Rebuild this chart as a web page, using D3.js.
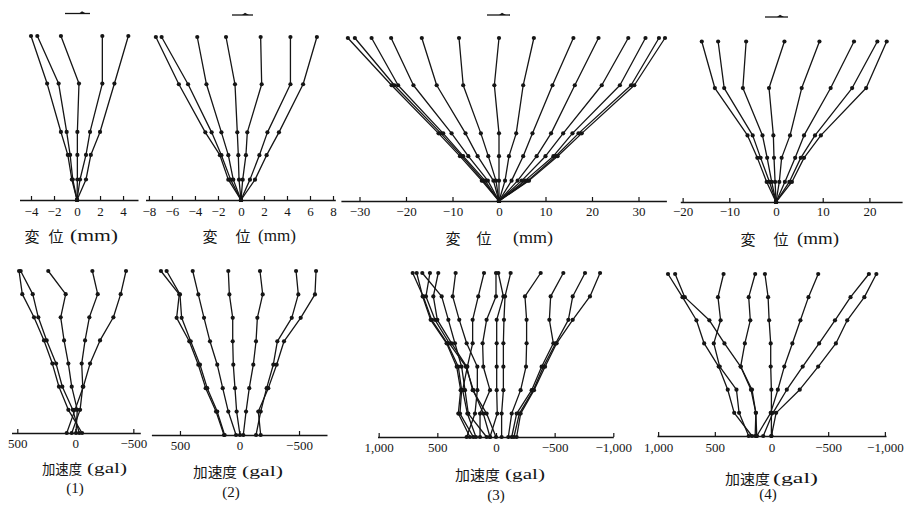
<!DOCTYPE html>
<html><head><meta charset="utf-8">
<script src="https://cdn.jsdelivr.net/npm/d3@7"></script>
<style>body{margin:0;background:#fff}svg{display:block}</style>
</head><body>
<script>
// ---------- DATA ----------
// measurement heights (ground -> top)
const dispLevels = [0, 2.5, 5.5, 8.3, 14.2, 20];
const accLevels = [0, 1, 2, 3, 4, 5, 6, 7];

const ticks1 = [-4, -2, 0, 2, 4];
const ticks2 = [-8, -6, -4, -2, 0, 2, 4, 6, 8];
const ticks3 = [-30, -20, -10, 0, 10, 20, 30];
const ticks4 = [-20, -10, 0, 10, 20];
const ticks5 = [500, 0, -500];
const ticks6 = [500, 0, -500];
const ticks7 = [1000, 500, 0, -500, -1000];
const ticks8 = [1000, 500, 0, -500, -1000];

// displacement (mm), each series ground -> top
const disp1 = [
  [0, -0.45, -0.8, -1.4, -2.6, -4.0],
  [0, -0.37, -0.6, -0.9, -1.6, -3.45],
  [0, 0.03, 0.03, 0.03, 0.17, -1.4],
  [0, 0.26, 0.78, 1.13, 2.2, 2.2],
  [0, 0.78, 1.2, 2.0, 3.25, 4.46]
];
const disp2 = [
  [0, -1.1, -1.83, -3.1, -5.4, -7.4],
  [0, -0.9, -1.7, -2.55, -4.6, -6.9],
  [0, -0.67, -1.1, -1.7, -3.0, -3.8],
  [0, -0.17, -0.23, -0.32, -0.52, -1.3],
  [0, 0.15, 0.43, 0.55, 1.8, 1.71],
  [0, 0.78, 1.6, 2.3, 4.3, 4.3],
  [0, 1.22, 2.23, 3.3, 5.4, 6.6]
];
const disp3 = [
  [0, -3.7, -8.4, -13.0, -23.1, -32.5],
  [0, -3.4, -8.0, -12.5, -22.5, -31.0],
  [0, -3.0, -7.7, -12.0, -21.7, -27.4],
  [0, -2.4, -6.6, -10.2, -18.4, -23.2],
  [0, -1.2, -4.6, -7.2, -13.4, -16.6],
  [0, -0.65, -2.3, -3.9, -7.7, -8.6],
  [0, 0, 0, 0, -1.0, 0],
  [0, 1.3, 2.15, 3.7, 5.2, 7.5],
  [0, 2.7, 5.2, 7.2, 11.5, 16.0],
  [0, 4.0, 8.1, 11.2, 16.3, 21.4],
  [0, 4.9, 10.0, 13.8, 22.1, 27.8],
  [0, 5.6, 11.7, 15.8, 26.0, 31.5],
  [0, 6.2, 12.2, 17.1, 28.4, 34.4],
  [0, 6.45, 12.6, 17.8, 29.1, 35.7]
];
const disp4 = [
  [0, -2.0, -4.0, -6.1, -13.1, -15.9],
  [0, -1.4, -3.3, -5.0, -11.1, -12.4],
  [0, -0.93, -1.9, -2.9, -7.1, -6.4],
  [0, -0.2, -0.43, -0.57, -1.5, 1.8],
  [0, 0.7, 1.2, 3.0, 5.5, 9.3],
  [0, 1.9, 4.1, 6.0, 11.7, 16.7],
  [0, 2.85, 5.3, 8.35, 16.3, 21.7],
  [0, 3.4, 6.0, 9.6, 19.3, 23.7]
];
// acceleration (gal), each series ground -> top
const acc1 = [
  [-58, 60, 141, 198, 270, 356, 457, 485],
  [-34, 22, 112, 166, 247, 319, 367, 471],
  [-6, -17, 31, 60, 97, 126, 83, 233],
  [31, -41, -64, -55, -84, -121, -193, -147],
  [74, 3, -69, -127, -213, -328, -391, -437]
];
const acc2 = [
  [130, 197, 284, 346, 422, 528, 506, 660],
  [125, 187, 271, 332, 410, 486, 500, 612],
  [29, 94, 141, 187, 248, 298, 346, 393],
  [-4, 24, 38, 52, 57, 57, 85, 94],
  [-32, -55, -82, -116, -139, -150, -195, -172],
  [-139, -178, -228, -284, -318, -439, -494, -475],
  [-178, -158, -242, -312, -374, -514, -634, -643]
];
const acc3 = [
  [193, 307, 293, 321, 415, 548, 620, 710],
  [222, 321, 301, 335, 421, 557, 625, 676],
  [80, 236, 264, 293, 350, 406, 463, 628],
  [51, 108, 193, 256, 398, 520, 597, 563],
  [0, 80, 199, 250, 378, 500, 534, 492],
  [250, 179, 159, 159, 250, 313, 369, 344],
  [171, 244, 284, 244, 199, 199, 151, 102],
  [136, 136, 51, 108, 114, 80, 0, 0],
  [51, -11, -6, -6, -6, -6, -63, -20],
  [-48, -48, -63, -63, -63, -68, -77, -125],
  [-105, -134, -210, -256, -261, -261, -247, -381],
  [-134, -176, -304, -389, -489, -455, -466, -574],
  [-153, -199, -318, -404, -509, -617, -654, -759],
  [-176, -210, -324, -418, -517, -654, -801, -887]
];
const acc4 = [
  [172, 329, 386, 466, 594, 662, 785, 913],
  [144, 138, 181, 272, 415, 548, 765, 850],
  [201, 286, 309, 457, 509, 449, 472, 423],
  [130, 138, 172, 272, 235, 187, 201, 144],
  [1, 1, 1, 7, 7, 21, 30, 58],
  [130, 7, -56, -113, -184, -255, -326, -412],
  [73, -13, -135, -275, -420, -560, -697, -859],
  [1, -41, -249, -412, -568, -668, -819, -925]
];

const dispTitle = ["変", "位", "(mm)"];
const accTitle = ["加速度", "(gal)"];
const captions = ["(1)", "(2)", "(3)", "(4)"];

// ---------- LAYOUT ----------
const fmtD = d3.format("d");
const fmtC = d3.format(",");
const panels = [
  {data: disp1, levels: dispLevels, ticks: ticks1, fmt: fmtD, domain: [-5, 5.3], range: [19.5, 138], yTop: 36, yBot: 200, pad: 6.5},
  {data: disp2, levels: dispLevels, ticks: ticks2, fmt: fmtD, domain: [-8.3, 8.2], range: [145.5, 335.3], yTop: 37, yBot: 200, pad: 6.5},
  {data: disp3, levels: dispLevels, ticks: ticks3, fmt: fmtD, domain: [-34, 36], range: [340.9, 666.4], yTop: 38, yBot: 201, pad: 5.5},
  {data: disp4, levels: dispLevels, ticks: ticks4, fmt: fmtD, domain: [-20.5, 27], range: [680.3, 902.1], yTop: 41.5, yBot: 202, pad: 5},
  {data: acc1, levels: accLevels, ticks: ticks5, fmt: fmtC, domain: [550, -560], range: [11.5, 140.3], yTop: 271, yBot: 433, pad: 5.5},
  {data: acc2, levels: accLevels, ticks: ticks6, fmt: fmtC, domain: [740, -735], range: [151.4, 327], yTop: 271, yBot: 435, pad: 5.5},
  {data: acc3, levels: accLevels, ticks: ticks7, fmt: fmtC, domain: [1010, -1000], range: [377.5, 613.3], yTop: 273, yBot: 437, pad: 5.5},
  {data: acc4, levels: accLevels, ticks: ticks8, fmt: fmtC, domain: [1010, -1010], range: [657, 886], yTop: 274, yBot: 436, pad: 6.5}
];

const svg = d3.select("body").append("svg").attr("width", 904).attr("height", 510);
const INK = "#151515";

panels.forEach(p => {
  const x = d3.scaleLinear().domain(p.domain).range(p.range);
  const y = d3.scaleLinear().domain(d3.extent(p.levels)).range([p.yBot, p.yTop]);
  const g = svg.append("g");
  const ax = g.append("g").attr("transform", `translate(0,${p.yBot})`)
    .call(d3.axisBottom(x).tickValues(p.ticks).tickSizeInner(-4).tickSizeOuter(0).tickPadding(p.pad).tickFormat(p.fmt));
  ax.attr("font-family", "'Liberation Serif', serif").attr("font-size", 13);
  ax.select(".domain").attr("stroke", INK).attr("stroke-width", 1.4);
  ax.selectAll(".tick line").attr("stroke", INK).attr("stroke-width", 1.2);
  ax.selectAll(".tick text").attr("fill", INK);
  const line = d3.line().x(d => x(d[0])).y(d => y(d[1]));
  p.data.forEach(series => {
    const pts = series.map((v, i) => [v, p.levels[i]]);
    g.append("path").attr("d", line(pts)).attr("fill", "none")
      .attr("stroke", INK).attr("stroke-width", 1.3).attr("stroke-linejoin", "round");
    g.selectAll(null).data(pts).enter().append("circle")
      .attr("cx", d => x(d[0])).attr("cy", d => y(d[1])).attr("r", 2.1).attr("fill", INK);
  });
});

// arrows above the top panels
const arrows = [[65, 90, 13.5], [232, 253, 15], [487, 510, 15], [765, 788, 17]];
arrows.forEach(([x0, x1, yy]) => {
  svg.append("line").attr("x1", x0).attr("x2", x1).attr("y1", yy).attr("y2", yy)
    .attr("stroke", INK).attr("stroke-width", 1.3);
  svg.append("path").attr("d", `M${x1 - 11},${yy} L${x1 - 8},${yy - 2.2} L${x1 - 4},${yy} Z`).attr("fill", INK);
});

// titles
function txt(s, x, yy, size, family, len) {
  const t = svg.append("text").attr("x", x).attr("y", yy).attr("font-size", size)
    .attr("font-family", family).attr("fill", INK).attr("dominant-baseline", "central").text(s);
  if (len) t.attr("textLength", len).attr("lengthAdjust", "spacingAndGlyphs");
  else t.attr("text-anchor", "middle");
  return t;
}
const CJK = "'Noto Sans CJK JP', sans-serif";
const SER = "'Liberation Serif', serif";
const dispTitlePos = [[32, 56, 70, 48, 235], [210, 243, 258, 38, 235], [453, 484, 513, 40, 237], [748, 781, 797, 42, 238]];
dispTitlePos.forEach(([a, b, c, w, yy]) => {
  txt(dispTitle[0], a, yy, 15, CJK);
  txt(dispTitle[1], b, yy, 15, CJK);
  txt(dispTitle[2], c, yy, 16, SER, w);
});
const accTitlePos = [[42, 40, 87, 40, 468, 75, 488], [193, 44, 242, 41, 471, 231, 492], [455, 45, 505, 40, 474, 496, 495], [725, 45, 773, 45, 478, 768, 494]];
accTitlePos.forEach(([a, wa, b, wb, yy, cx, cy], i) => {
  txt(accTitle[0], a, yy, 14, CJK, wa);
  txt(accTitle[1], b, yy, 15, SER, wb);
  txt(captions[i], cx, cy, 15, SER);
});
</script>
</body></html>
